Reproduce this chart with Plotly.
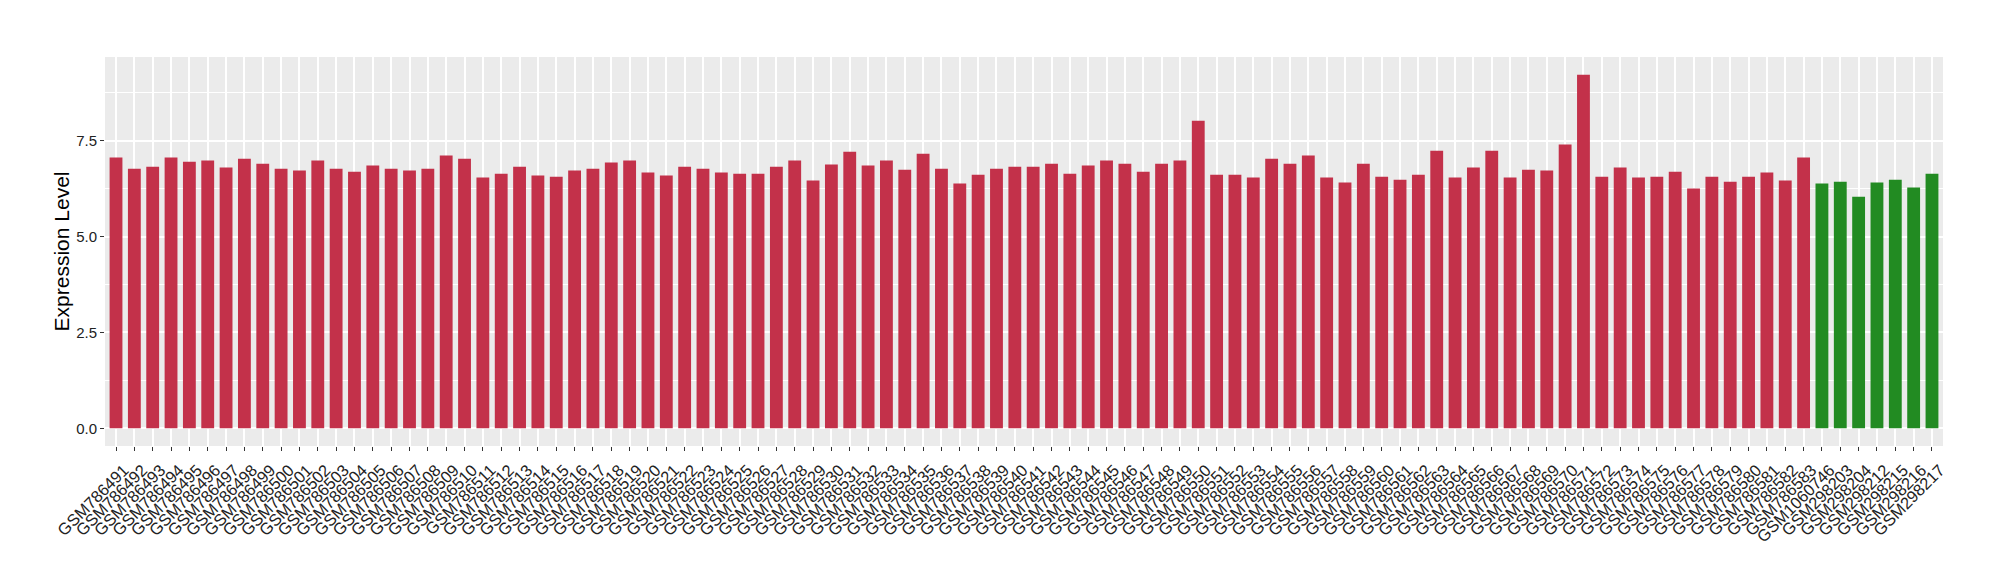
import plotly.graph_objects as go

red_samples = [f"GSM{n}" for n in range(786491, 786584)]
green_samples = ["GSM1060746", "GSM298203", "GSM298204", "GSM298212",
                 "GSM298215", "GSM298216", "GSM298217"]

red_values = [
    7.06, 6.77, 6.82, 7.06, 6.95, 6.98, 6.80, 7.03, 6.90, 6.77,
    6.72, 6.98, 6.77, 6.69, 6.85, 6.77, 6.72, 6.77,
    7.11, 7.03, 6.54, 6.64, 6.82, 6.59, 6.56, 6.72, 6.77, 6.93,
    6.98, 6.67, 6.59, 6.82, 6.77, 6.67, 6.64, 6.64,
    6.82, 6.98, 6.46, 6.88, 7.21, 6.85, 6.98, 6.74, 7.16, 6.77,
    6.38, 6.61, 6.77, 6.82, 6.82, 6.90, 6.64, 6.85,
    6.98, 6.90, 6.69, 6.90, 6.98, 8.02, 6.61, 6.61, 6.54, 7.03,
    6.90, 7.11, 6.54, 6.41, 6.90, 6.56, 6.48, 6.61,
    7.24, 6.54, 6.80, 7.24, 6.54, 6.74, 6.72, 7.40, 9.22, 6.56,
    6.80, 6.54, 6.56, 6.69, 6.25, 6.56, 6.43, 6.56,
    6.67, 6.46, 7.06,
]
green_values = [6.38, 6.43, 6.04, 6.41, 6.48, 6.28, 6.64]

RED = "#C3314A"
GREEN = "#228B22"

samples = red_samples + green_samples
values = red_values + green_values
colors = [RED] * len(red_samples) + [GREEN] * len(green_samples)

vmax = max(values)
font_family = "Liberation Sans, Arial, Helvetica, sans-serif"

fig = go.Figure(
    go.Bar(
        x=samples,
        y=values,
        marker=dict(color=colors, line=dict(width=0)),
        showlegend=False,
    )
)

fig.update_layout(
    width=1984,
    height=564,
    paper_bgcolor="white",
    plot_bgcolor="#EBEBEB",
    margin=dict(l=97, r=49, t=49, b=126, autoexpand=False),
    bargap=0.3,
    font=dict(family=font_family, color="#333333"),
)

fig.update_xaxes(
    type="category",
    automargin=False,
    range=[-0.6, len(samples) - 0.4],
    tickmode="linear",
    tick0=0,
    dtick=1,
    tickangle=-45,
    tickfont=dict(size=16.5, color="#222222", family=font_family),
    ticklabelshift=8,
    ticklabelstandoff=3,
    ticks="outside",
    ticklen=4,
    tickwidth=1,
    tickcolor="#333333",
    showgrid=True,
    gridcolor="white",
    gridwidth=1.5,
    showline=False,
    zeroline=False,
)

fig.update_yaxes(
    automargin=False,
    range=[-0.05 * vmax, 1.05 * vmax],
    tick0=0,
    dtick=2.5,
    tickformat=".1f",
    tickfont=dict(size=15, color="#222222", family=font_family),
    ticks="outside",
    ticklen=4,
    tickwidth=1,
    tickcolor="#333333",
    showgrid=True,
    gridcolor="white",
    gridwidth=1.5,
    minor=dict(dtick=1.25, tick0=0, showgrid=True, gridcolor="white", gridwidth=0.7, ticks=""),
    zeroline=False,
    showline=False,
    title=dict(text="Expression Level", font=dict(size=21, color="black", family=font_family), standoff=0),
)

fig.write_html("out.html")
